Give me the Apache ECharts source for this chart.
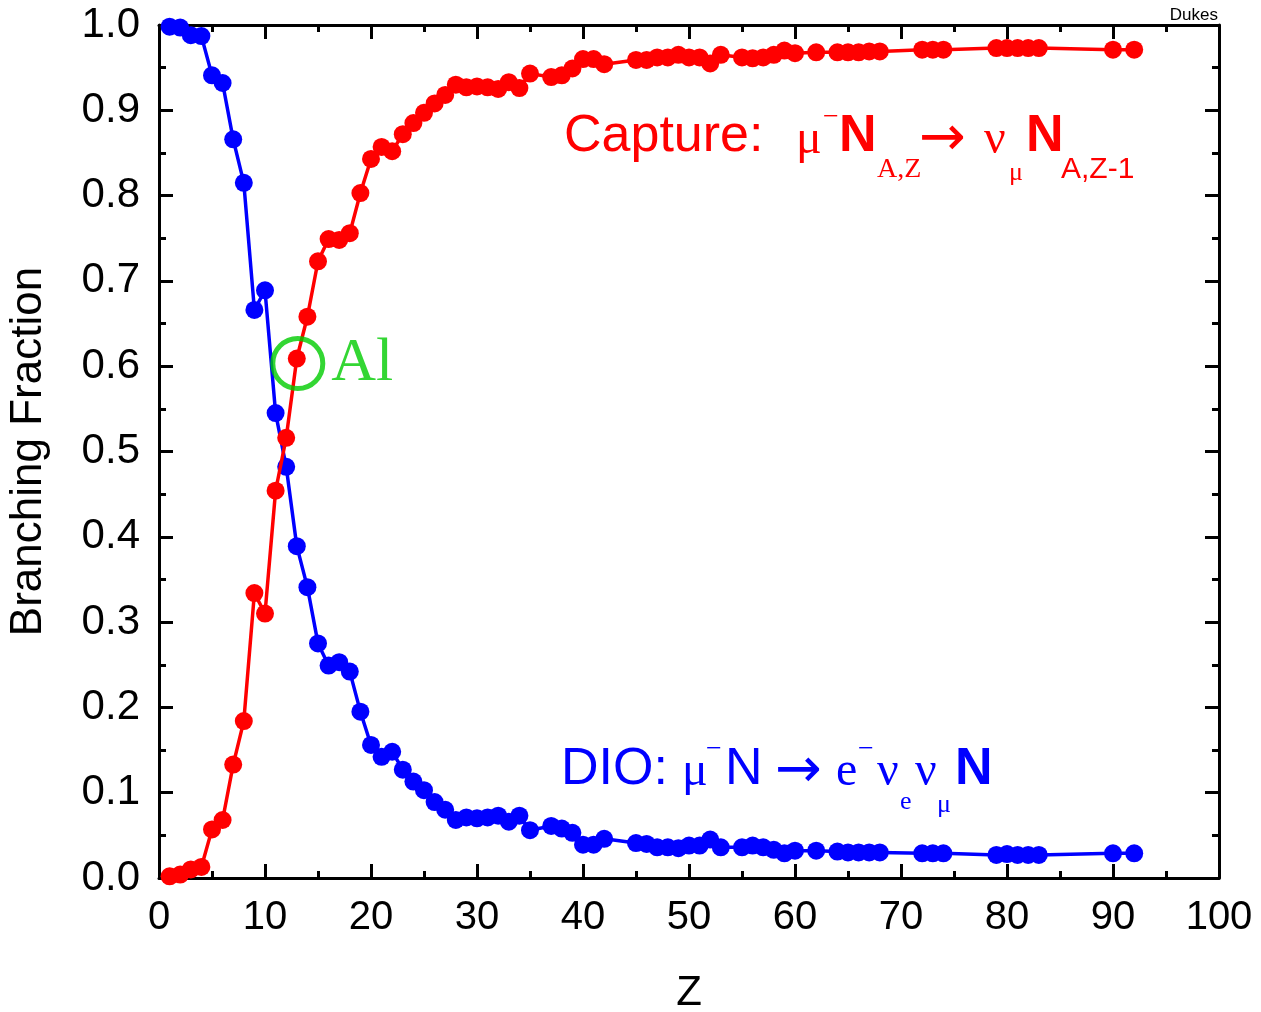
<!DOCTYPE html>
<html>
<head>
<meta charset="utf-8">
<script src="https://cdn.jsdelivr.net/npm/echarts@6/dist/echarts.min.js"></script>
<style>
html,body{margin:0;padding:0;background:#fff;overflow:hidden;}
#chart{width:1261px;height:1012px;}
</style>
</head>
<body>
<div id="chart"></div>
<script>
// Atomic number Z of each measured element
const zValues = [1,2,3,4,5,6,7,8,9,10,11,12,13,14,15,16,17,18,19,20,21,22,23,24,25,26,27,28,29,30,31,32,33,34,35,37,38,39,40,41,42,45,46,47,48,49,50,51,52,53,55,56,57,58,59,60,62,64,65,66,67,68,72,73,74,79,80,81,82,83,90,92];
// Capture branching fraction
const captureValues = [0.002,0.004,0.010,0.013,0.057,0.068,0.133,0.184,0.334,0.310,0.454,0.516,0.609,0.658,0.723,0.749,0.748,0.756,0.803,0.843,0.857,0.852,0.872,0.885,0.897,0.908,0.918,0.930,0.927,0.928,0.927,0.925,0.933,0.926,0.943,0.939,0.941,0.949,0.960,0.960,0.954,0.959,0.959,0.962,0.962,0.965,0.962,0.962,0.955,0.965,0.962,0.961,0.962,0.965,0.970,0.967,0.968,0.968,0.968,0.968,0.969,0.969,0.971,0.971,0.971,0.973,0.973,0.973,0.973,0.973,0.971,0.971];
// Decay-in-orbit branching fraction
const dioValues = [0.998,0.997,0.988,0.987,0.941,0.932,0.866,0.815,0.666,0.689,0.545,0.482,0.389,0.341,0.275,0.249,0.253,0.242,0.195,0.156,0.142,0.148,0.127,0.113,0.103,0.089,0.080,0.068,0.071,0.070,0.071,0.073,0.066,0.073,0.056,0.061,0.058,0.053,0.039,0.039,0.046,0.041,0.040,0.036,0.036,0.035,0.038,0.038,0.045,0.036,0.036,0.038,0.036,0.033,0.029,0.032,0.032,0.031,0.030,0.030,0.030,0.030,0.029,0.029,0.029,0.027,0.028,0.027,0.027,0.027,0.029,0.029];
// Highlighted element (aluminium)
const highlightZ = 13;
const highlightName = 'Al';
// Tick labels
const xTickLabels = ['0','10','20','30','40','50','60','70','80','90','100'];
const yTickLabels = ['0.0','0.1','0.2','0.3','0.4','0.5','0.6','0.7','0.8','0.9','1.0'];

const capturePts = zValues.map((z, i) => [z, captureValues[i]]);
const dioPts = zValues.map((z, i) => [z, dioValues[i]]);
const hiIdx = zValues.indexOf(highlightZ);
const hiPts = [[highlightZ, captureValues[hiIdx]]];

const SANS = 'Liberation Sans, Arial, sans-serif';
const SERIF = 'Liberation Serif, Times New Roman, serif';
const ARROW = 'DejaVu Sans, sans-serif';
const RED = '#ff0000', BLUE = '#0000ff', GREEN = '#00cc00';

function piece(text, x, y, size, family, color, weight) {
  return {
    type: 'text', x: x, y: y, z: 100,
    style: {
      text: text, fill: color, align: 'left', verticalAlign: 'middle',
      font: (weight || 'normal') + ' ' + size + 'px ' + family
    }
  };
}

const captureText = [
  piece('Capture:', 564, 137, 52, SANS, RED),
  piece('\u03bc', 796, 140, 48, SERIF, RED),
  piece('\u2212', 823, 118, 28, SERIF, RED),
  piece('N', 839, 137, 52, SANS, RED, 'bold'),
  piece('A,Z', 877, 170, 28, SERIF, RED),
  piece('\u2192', 919, 140, 56, ARROW, RED),
  piece('\u03bd', 984, 140, 48, SERIF, RED),
  piece('\u03bc', 1009, 173, 26, SERIF, RED),
  piece('N', 1026, 137, 52, SANS, RED, 'bold'),
  piece('A,Z-1', 1061, 170, 30, SANS, RED)
];
const dioText = [
  piece('DIO:', 561, 770, 52, SANS, BLUE),
  piece('\u03bc', 682, 772, 48, SERIF, BLUE),
  piece('\u2212', 706, 750, 28, SERIF, BLUE),
  piece('N', 725, 770, 52, SANS, BLUE),
  piece('\u2192', 775, 772, 56, ARROW, BLUE),
  piece('e', 836, 772, 48, SERIF, BLUE),
  piece('\u2212', 858, 750, 28, SERIF, BLUE),
  piece('\u03bd', 877, 772, 48, SERIF, BLUE),
  piece('e', 900, 802, 26, SERIF, BLUE),
  piece('\u03bd', 915, 772, 48, SERIF, BLUE),
  piece('\u03bc', 937, 805, 26, SERIF, BLUE),
  piece('N', 955, 770, 52, SANS, BLUE, 'bold')
];

const tickCommon = {
  axisLine: { show: true, onZero: false, lineStyle: { color: '#000', width: 3 } },
  axisTick: { show: true, inside: true, length: 14, lineStyle: { color: '#000', width: 3 } },
  minorTick: { show: true, splitNumber: 2, length: 7, lineStyle: { color: '#000', width: 3 } },
  splitLine: { show: false },
  minorSplitLine: { show: false }
};

const chart = echarts.init(document.getElementById('chart'), null, { renderer: 'canvas' });
chart.setOption({
  animation: false,
  backgroundColor: '#fff',
  grid: { left: 159, right: 42, top: 25, bottom: 134, containLabel: false, outerBoundsMode: 'none' },
  xAxis: [
    Object.assign({
      type: 'value', position: 'bottom', min: 0, max: 100, interval: 10,
      name: 'Z', nameLocation: 'middle', nameGap: 94,
      nameTextStyle: { fontFamily: SANS, fontSize: 42, color: '#000' },
      axisLabel: { show: true, margin: 20, fontFamily: SANS, fontSize: 40, color: '#000',
        formatter: v => xTickLabels[Math.round(v / 10)] }
    }, tickCommon),
    Object.assign({
      type: 'value', position: 'top', min: 0, max: 100, interval: 10,
      axisLabel: { show: false }
    }, tickCommon)
  ],
  yAxis: [
    Object.assign({
      type: 'value', position: 'left', min: 0, max: 1, interval: 0.1,
      name: 'Branching Fraction', nameLocation: 'middle', nameGap: 108, nameRotate: 90,
      nameTextStyle: { fontFamily: SANS, fontSize: 44, color: '#000' },
      axisLabel: { show: true, margin: 19, fontFamily: SANS, fontSize: 42, color: '#000',
        formatter: v => yTickLabels[Math.round(v * 10)] }
    }, tickCommon),
    Object.assign({
      type: 'value', position: 'right', min: 0, max: 1, interval: 0.1,
      axisLabel: { show: false }
    }, tickCommon)
  ],
  series: [
    {
      type: 'line', name: 'DIO', data: dioPts, xAxisIndex: 0, yAxisIndex: 0,
      symbol: 'circle', symbolSize: 18, showSymbol: true,
      lineStyle: { color: BLUE, width: 3.5 }, itemStyle: { color: BLUE }, z: 3
    },
    {
      type: 'line', name: 'Capture', data: capturePts, xAxisIndex: 0, yAxisIndex: 0,
      symbol: 'circle', symbolSize: 18, showSymbol: true,
      lineStyle: { color: RED, width: 3.5 }, itemStyle: { color: RED }, z: 4
    },
    {
      type: 'scatter', name: highlightName, data: hiPts, xAxisIndex: 0, yAxisIndex: 0,
      symbol: 'circle', symbolSize: 50, symbolOffset: [1, 5],
      itemStyle: { color: 'rgba(0,0,0,0)', borderColor: GREEN, borderWidth: 5 },
      label: { show: true, position: 'right', distance: 6, formatter: highlightName,
        fontFamily: SERIF, fontSize: 62, color: GREEN },
      z: 5, silent: true
    }
  ],
  graphic: [
    { type: 'text', right: 43, top: 7, style: { text: 'Dukes', fill: '#000', font: '17px ' + SANS } }
  ].concat(captureText, dioText)
});
</script>
</body>
</html>
